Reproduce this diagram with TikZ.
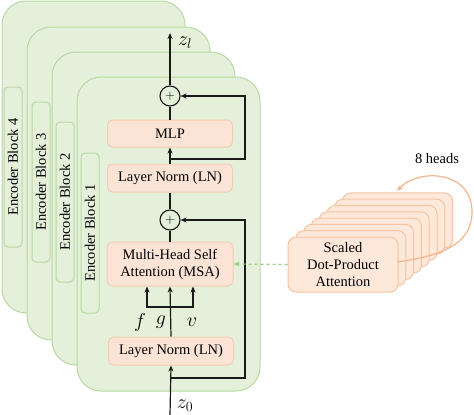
\RequirePackage{fix-cm}
\documentclass[tikz,border=0pt]{standalone}
\usepackage{fontspec}
\setmainfont{Liberation Serif}
\usetikzlibrary{arrows.meta}
\definecolor{blkfill}{HTML}{E4F0DA}
\definecolor{blkdraw}{HTML}{B9D8A4}
\definecolor{boxfill}{HTML}{FBE4D6}
\definecolor{boxdraw}{HTML}{F3CDB3}
\definecolor{stkfill}{HTML}{FDE8DA}
\definecolor{stkdraw}{HTML}{F5C4A2}
\definecolor{orng}{HTML}{F3B58C}
\definecolor{dgreen}{HTML}{9FCB8C}
\definecolor{ink}{HTML}{1A1A1A}
\tikzset{
  block/.style={fill=blkfill,draw=blkdraw,line width=1pt,rounded corners=24pt},
  lbl/.style={fill=blkfill,draw=blkdraw,line width=1pt,rounded corners=4pt,minimum width=160pt,minimum height=18pt,inner sep=0pt,rotate=90,font=\fontsize{14.5}{17}\selectfont},
  opbox/.style={fill=boxfill,draw=boxdraw,line width=1pt,rounded corners=5pt,inner sep=0pt,align=center,font=\fontsize{14.5}{17}\selectfont},
  stk/.style={fill=stkfill,draw=stkdraw,line width=1pt,rounded corners=8pt},
  plus/.style={circle,draw=ink,line width=1.1pt,minimum size=20pt,inner sep=0pt,font=\fontsize{13}{13}\selectfont},
  conn/.style={draw=ink,line width=1.2pt},
  arr/.style={conn,-{Stealth[length=6pt,width=5pt]}},
  txt/.style={inner sep=0pt,font=\fontsize{14.5}{17}\selectfont},
  mtxt/.style={inner sep=0pt,font=\fontsize{20}{22}\selectfont},
}
\begin{document}
\begin{tikzpicture}[x=1pt,y=-1pt]
\useasboundingbox (0,0) rectangle (474,415);
% encoder blocks, back to front
\path[block] (2,1) rectangle (185,313);
\node[lbl] (l4) at (13,167) {Encoder Block 4};
\path[block] (27,27) rectangle (210,340);
\node[lbl] (l3) at (41,182) {Encoder Block 3};
\path[block] (52,52) rectangle (235,365);
\node[lbl] (l2) at (65,202) {Encoder Block 2};
\path[block] (77,77) rectangle (260,391);
\node[lbl] (l1) at (90,233) {Encoder Block 1};
% inner boxes
\node[opbox,minimum width=125pt,minimum height=27pt] (mlp) at (170,133.5) {MLP};
\node[opbox,minimum width=125pt,minimum height=28pt] (ln2) at (170,178) {Layer Norm (LN)};
\node[opbox,minimum width=126pt,minimum height=44pt] (msa) at (170,264) {Multi-Head Self\\Attention (MSA)};
\node[opbox,minimum width=125pt,minimum height=28pt] (ln1) at (171,351) {Layer Norm (LN)};
\node[plus] (p2) at (170,96) {$+$};
\node[plus] (p1) at (170,220) {$+$};
% coordinates
\coordinate (zin) at (170,415);
\coordinate (b1) at (170,378);
\coordinate (r1) at (245,378);
\coordinate (b2) at (170,159);
\coordinate (r2) at (245,159);
\coordinate (zout) at (170,33);
\coordinate (fl) at (147,307);
\coordinate (vr) at (193,307);
\coordinate (gm) at (170,307);
% connectors
\draw[arr] (zin) -- (ln1.south);
\draw[arr] (b1) -- (r1) |- (p1.east);
\draw[arr] (ln1.north) -- (msa.south);
\draw[arr] (gm) -- (fl) -- (fl |- msa.south);
\draw[arr] (gm) -- (vr) -- (vr |- msa.south);
\draw[conn] (msa.north) -- (p1.south);
\draw[conn] (p1.north) -- (ln2.south);
\draw[arr] (ln2.north) -- (mlp.south);
\draw[arr] (b2) -- (r2) |- (p2.east);
\draw[conn] (mlp.north) -- (p2.south);
\draw[arr] (p2.north) -- (zout);
% labels
\node[mtxt] (zl) at (185,43) {$z_l$};
\node[mtxt] (z0) at (185,406) {$z_0$};
\node[mtxt] (lf) at (140,322) {$f$};
\node[mtxt] (lg) at (161,322) {$g$};
\node[mtxt] (lv) at (192,322) {$v$};
% stack of heads
\foreach \i in {7,6,...,1}{
  \path[stk] (288+7.8*\i,237-6.3*\i) rectangle (398+7.8*\i,292-6.3*\i);
}
\node[stk,minimum width=110pt,minimum height=55pt,inner sep=0pt,align=center,font=\fontsize{14.5}{17}\selectfont] (sdpa) at (343,264.5) {Scaled\\Dot-Product\\Attention};
\coordinate (cs) at (397,262);
\coordinate (ce) at (397,191);
\draw[orng,line width=1.2pt,-{Stealth[length=6pt,width=5pt]}] (cs) .. controls (440,256) and (472,245) .. (472,212) .. controls (472,170) and (418,168) .. (ce);
\node[txt] (heads) at (437,159) {8 heads};
\draw[dgreen,line width=1.2pt,dashed,-{Stealth[length=6pt,width=5pt]}] (sdpa.west) -- (msa.east);
\end{tikzpicture}
\end{document}
